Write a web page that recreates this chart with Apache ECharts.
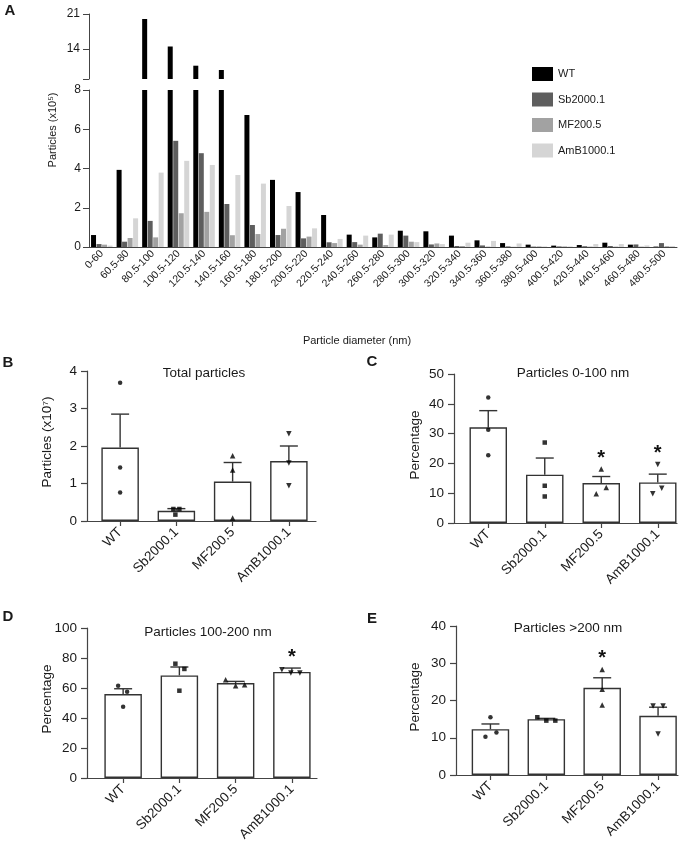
<!DOCTYPE html>
<html><head><meta charset="utf-8">
<script src="https://cdn.jsdelivr.net/npm/echarts@6/dist/echarts.min.js"></script>
<style>html,body{margin:0;padding:0;background:#fff}#c{width:686px;height:850px}</style>
</head><body><div id="c"></div>
<script>
// ---------- Panel A data (x10^5 particles) ----------
const sizeBins = ['0-60','60.5-80','80.5-100','100.5-120','120.5-140','140.5-160','160.5-180','180.5-200','200.5-220','220.5-240','240.5-260','260.5-280','280.5-300','300.5-320','320.5-340','340.5-360','360.5-380','380.5-400','400.5-420','420.5-440','440.5-460','460.5-480','480.5-500'];
const groups = ['WT','Sb2000.1','MF200.5','AmB1000.1'];
const wtA  = [0.61,3.93,20.0,14.5,10.66,9.8,6.72,3.42,2.80,1.63,0.63,0.49,0.83,0.80,0.58,0.34,0.20,0.12,0.07,0.10,0.22,0.12,0.02];
const sbA  = [0.15,0.27,1.33,5.41,4.78,2.19,1.12,0.61,0.44,0.24,0.25,0.68,0.58,0.13,0.05,0.08,0.03,0.02,0.03,0.04,0.05,0.13,0.20];
const mfA  = [0.12,0.46,0.49,1.72,1.79,0.60,0.66,0.93,0.53,0.20,0.12,0.10,0.27,0.18,0.05,0.02,0.01,0.03,0.03,0.02,0.02,0.02,0.04];
const ambA = [0.07,1.46,3.79,4.39,4.18,3.67,3.23,2.09,0.95,0.41,0.58,0.63,0.25,0.15,0.22,0.31,0.18,0.03,0.03,0.15,0.15,0.08,0.05];
const lowerTicks = [0,2,4,6,8];
const upperTicks = [8,14,21];
const upperLabels = [14,21];

// ---------- Panel B: Total particles (x10^7) ----------
const totalMean = [1.96,0.27,1.05,1.60];
const totalSem  = [0.89,0.06,0.51,0.40];
const totalPts  = [[3.69,1.43,0.76],[0.32,0.32,0.17],[1.74,1.36,0.08],[2.33,1.55,0.94]];
const totalSig  = [false,false,false,false];

// ---------- Panel C: Particles 0-100 nm (%) ----------
const smallMean = [32.1,16.2,13.4,13.6];
const smallSem  = [5.6,5.6,2.2,2.8];
const smallPts  = [[42.1,31.3,22.7],[27.0,12.5,8.9],[18.1,11.9,9.8],[19.6,11.7,9.8]];
const smallSig  = [false,false,true,true];

// ---------- Panel D: Particles 100-200 nm (%) ----------
const midMean = [56.0,68.4,63.3,70.7];
const midSem  = [3.5,5.6,1.1,2.6];
const midPts  = [[61.5,57.5,47.5],[76.2,72.7,58.2],[65.5,61.5,62.2],[72.2,70.0,70.0]];
const midSig  = [false,false,false,true];

// ---------- Panel E: Particles >200 nm (%) ----------
const largeMean = [12.3,15.0,23.4,15.9];
const largeSem  = [1.4,0.2,2.7,2.3];
const largePts  = [[15.5,11.4,10.3],[15.5,14.6,14.6],[28.3,23.0,18.8],[18.5,18.5,11.0]];
const largeSig  = [false,false,true,false];

// ---------- styling ----------
const FONT = '"Liberation Sans", Arial, Helvetica, sans-serif';
const TXT = '#1a1a1a';
const AX = '#444';
const colorsA = ['#000000','#5e5e5e','#a2a2a2','#d5d5d5'];
const symbols = ['circle','rect','triangle','triangle'];
const symRot = [0,0,0,180];
const symSize = [4.5,4.5,5.5,5.5];

const chart = echarts.init(document.getElementById('c'), null, {renderer:'canvas', width:686, height:850});

const grid = [], xAxis = [], yAxis = [], series = [];

// ----- Panel A (broken axis: two grids) -----
grid.push({left:89, top:14, width:588, height:65});
grid.push({left:89, top:90, width:588, height:157});
xAxis.push({gridIndex:0, type:'category', data:sizeBins, show:false});
xAxis.push({gridIndex:1, type:'category', data:sizeBins,
  axisLine:{lineStyle:{color:AX, width:1}},
  axisTick:{alignWithLabel:true, length:4, lineStyle:{color:AX}},
  axisLabel:{interval:0, rotate:45, fontSize:10.5, margin:5, color:TXT, fontFamily:FONT}});
yAxis.push({gridIndex:0, type:'value', min:upperTicks[0], max:upperTicks[upperTicks.length-1],
  splitLine:{show:false},
  axisLine:{show:true, lineStyle:{color:AX}},
  axisTick:{show:true, length:6, customValues:upperTicks, lineStyle:{color:AX}},
  axisLabel:{customValues:upperLabels, fontSize:12, margin:9, color:TXT, fontFamily:FONT}});
yAxis.push({gridIndex:1, type:'value', min:lowerTicks[0], max:lowerTicks[lowerTicks.length-1], interval:lowerTicks[1]-lowerTicks[0],
  splitLine:{show:false},
  axisLine:{show:true, lineStyle:{color:AX}},
  axisTick:{show:true, length:6, lineStyle:{color:AX}},
  axisLabel:{fontSize:12, margin:8, color:TXT, fontFamily:FONT}});
const seriesA = [wtA, sbA, mfA, ambA];
seriesA.forEach((arr, g) => {
  const upperMin = upperTicks[0];
  series.push({type:'bar', name:groups[g], xAxisIndex:0, yAxisIndex:0, clip:true,
    data: arr.map(v => v > upperMin ? v : '-'),
    barWidth:5, barGap:'10%', itemStyle:{color:colorsA[g]}, silent:true});
  series.push({type:'bar', name:groups[g], xAxisIndex:1, yAxisIndex:1, clip:true,
    data: arr, barWidth:5, barGap:'10%', itemStyle:{color:colorsA[g]}, silent:true});
});

// ----- Panels B-E -----
const jitter = {
  B: [[0,0,0],[-3,3,-1],[0,0,0],[0,0,0]],
  C: [[0,0,0],[0,0,0],[0,5,-5],[0,4,-5]],
  D: [[-5,4,0],[-4,5,0],[-10,0,9],[-10,-1,8]],
  E: [[0,6,-5],[-9,0,9],[0,0,0],[-5,5,0]]
};
const panels = [
  {key:'B', frame:{left:87, top:371, width:229, height:150}, main:{left:92, top:371, width:225, height:150},
   min:0, max:4, interval:1, mean:totalMean, sem:totalSem, pts:totalPts, sig:totalSig},
  {key:'C', frame:{left:454, top:374, width:223, height:149}, main:{left:460, top:374, width:226, height:149},
   min:0, max:50, interval:10, mean:smallMean, sem:smallSem, pts:smallPts, sig:smallSig},
  {key:'D', frame:{left:87, top:628, width:230, height:150}, main:{left:95, top:628, width:225, height:150},
   min:0, max:100, interval:20, mean:midMean, sem:midSem, pts:midPts, sig:midSig},
  {key:'E', frame:{left:456, top:626, width:222, height:149}, main:{left:462.5, top:626, width:224, height:149},
   min:0, max:40, interval:10, mean:largeMean, sem:largeSem, pts:largePts, sig:largeSig}
];

panels.forEach(p => {
  const fi = grid.length; grid.push(p.frame);
  const mi = grid.length; grid.push(p.main);
  xAxis.push({gridIndex:fi, type:'value', min:0, max:1, axisLine:{show:true, onZero:false, lineStyle:{color:AX, width:1.2}},
    axisTick:{show:false}, axisLabel:{show:false}, splitLine:{show:false}});
  yAxis.push({gridIndex:fi, type:'value', min:p.min, max:p.max, interval:p.interval,
    splitLine:{show:false}, axisLine:{show:true, lineStyle:{color:AX, width:1.2}},
    axisTick:{show:true, length:6, lineStyle:{color:AX, width:1.2}},
    axisLabel:{fontSize:13.5, margin:10, color:TXT, fontFamily:FONT}});
  xAxis.push({gridIndex:mi, type:'category', data:groups,
    axisLine:{show:false}, axisTick:{show:true, alignWithLabel:true, length:5, lineStyle:{color:AX, width:1.2}},
    axisLabel:{interval:0, rotate:45, fontSize:13.5, margin:9, color:TXT, fontFamily:FONT}});
  yAxis.push({gridIndex:mi, type:'value', min:p.min, max:p.max, show:false});
  series.push({type:'bar', name:p.key+'-mean', xAxisIndex:mi, yAxisIndex:mi, data:p.mean, barWidth:37.5, z:2, silent:true,
    itemStyle:{color:'#ffffff', borderColor:'#333', borderWidth:1.4}});
  series.push({type:'custom', name:p.key+'-sem', xAxisIndex:mi, yAxisIndex:mi, z:3, silent:true,
    data:p.mean.map((m,i)=>[i, m, m + p.sem[i]]),
    renderItem:(params, api) => {
      const x = api.value(0);
      const lo = api.coord([x, api.value(1)]);
      const hi = api.coord([x, api.value(2)]);
      const half = 9;
      return {type:'group', children:[
        {type:'line', shape:{x1:lo[0], y1:lo[1], x2:hi[0], y2:hi[1]}, style:{stroke:'#333', lineWidth:1.4}},
        {type:'line', shape:{x1:hi[0]-half, y1:hi[1], x2:hi[0]+half, y2:hi[1]}, style:{stroke:'#333', lineWidth:1.4}}
      ]};
    }});
  p.pts.forEach((arr, g) => {
    series.push({type:'scatter', name:p.key+'-'+groups[g], xAxisIndex:mi, yAxisIndex:mi, z:4, silent:true,
      symbol:symbols[g], symbolRotate:symRot[g], symbolSize:symSize[g], itemStyle:{color:'#000'},
      data: arr.map((v,k)=>({value:[g, v], symbolOffset:[jitter[p.key][g][k], 0]}))});
  });
  const starData = [];
  p.sig.forEach((s, g) => { if (s) starData.push([g, Math.max(Math.max(...p.pts[g]), p.mean[g] + p.sem[g]) + 0.1 * p.max]); });
  if (starData.length) {
    series.push({type:'custom', name:p.key+'-sig', xAxisIndex:mi, yAxisIndex:mi, z:5, silent:true, data:starData,
      renderItem:(params, api) => {
        const c = api.coord([api.value(0), api.value(1)]);
        return {type:'text', x:c[0], y:c[1]+4, style:{text:'*', font:'bold 20px '+FONT, fill:'#111', align:'center', verticalAlign:'middle'}};
      }});
  }
});

function txt(x, y, text, font, rot) {
  return {type:'text', x:x, y:y, rotation:rot || 0, silent:true,
    style:{text:text, font:font, fill:TXT, align:'center', verticalAlign:'middle'}};
}
const graphic = [
  txt(10, 11, 'A', 'bold 15px '+FONT),
  txt(8, 363, 'B', 'bold 15px '+FONT),
  txt(372, 362, 'C', 'bold 15px '+FONT),
  txt(8, 617, 'D', 'bold 15px '+FONT),
  txt(372, 619, 'E', 'bold 15px '+FONT),
  txt(53, 130, 'Particles (x10\u2075)', '11px '+FONT, Math.PI/2),
  txt(357, 341, 'Particle diameter (nm)', '11px '+FONT),
  txt(204, 373, 'Total particles', '13.5px '+FONT),
  txt(47, 442, 'Particles (x10\u2077)', '13.5px '+FONT, Math.PI/2),
  txt(573, 373, 'Particles 0-100 nm', '13.5px '+FONT),
  txt(415, 445, 'Percentage', '13.5px '+FONT, Math.PI/2),
  txt(208, 632, 'Particles 100-200 nm', '13.5px '+FONT),
  txt(47, 699, 'Percentage', '13.5px '+FONT, Math.PI/2),
  txt(568, 628, 'Particles >200 nm', '13.5px '+FONT),
  txt(415, 697, 'Percentage', '13.5px '+FONT, Math.PI/2)
];

chart.setOption({
  animation:false,
  backgroundColor:'#ffffff',
  textStyle:{fontFamily:FONT},
  legend:{data:groups, orient:'vertical', left:527, top:62, itemWidth:21, itemHeight:14, itemGap:11.5,
    icon:'rect', selectedMode:false, textStyle:{fontSize:11, color:TXT, fontFamily:FONT}},
  grid:grid, xAxis:xAxis, yAxis:yAxis, series:series, graphic:graphic
});
</script></body></html>
